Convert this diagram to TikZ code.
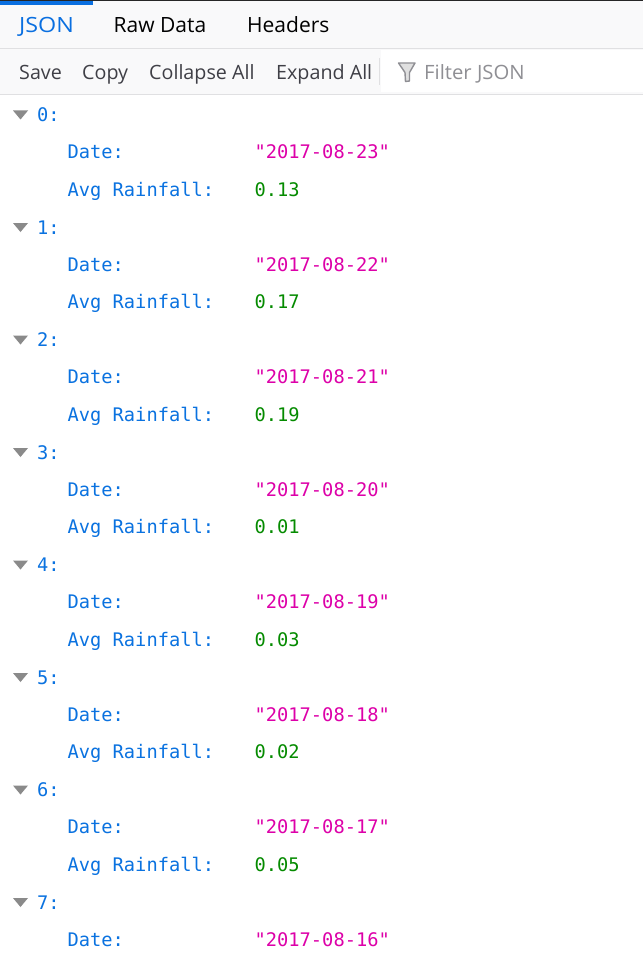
\documentclass[tikz,border=0pt]{standalone}
\usepackage{fontspec}
\setmainfont{Open Sans}
\newfontfamily\jmono{DejaVu Sans Mono}
\definecolor{tabblue}{HTML}{0A6FE0}
\definecolor{keyblue}{HTML}{0A72E0}
\definecolor{strpink}{HTML}{DD00A9}
\definecolor{numgreen}{HTML}{058B00}
\definecolor{tbtext}{HTML}{3F3F46}
\definecolor{barbg}{HTML}{F9F9FA}
\definecolor{barline}{HTML}{E0E0E2}
\definecolor{twisty}{HTML}{8A8A8A}
\definecolor{filtergray}{HTML}{8F8F94}
\tikzset{
  tab/.style={anchor=base west,inner sep=0pt,font=\fontsize{21}{25}\selectfont,text=black},
  tool/.style={anchor=base west,inner sep=0pt,font=\fontsize{19.7}{23}\selectfont,text=tbtext},
  jkey/.style={anchor=base west,inner sep=0pt,font=\jmono\fontsize{18.7}{22}\selectfont,text=keyblue},
  jstr/.style={jkey,text=strpink},
  jnum/.style={jkey,text=numgreen},
  tw/.style={fill=twisty,draw=none}
}
\begin{document}
\begin{tikzpicture}[x=1pt,y=-1pt]
\useasboundingbox (0,0) rectangle (643,955);
\fill[white] (0,0) rectangle (643,955);
% bars
\fill[barbg] (0,1) rectangle (643,95);
\fill[white] (381,50) rectangle (643,92);
\fill[black!85] (0,0) rectangle (643,1.5);
\fill[tabblue] (0,1.5) rectangle (93,5.5);
\draw[barline,line width=1pt] (0,48.5) -- (643,48.5);
\draw[barline,line width=1pt] (0,94.5) -- (643,94.5);
\draw[barline,line width=1pt] (379.5,58) -- (379.5,85);
% tabs
\node[tab,text=tabblue] (tjson) at (19,32.5) {\scalebox{1.11}[1]{JSON}};
\node[tab] (traw) at (113.5,32.5) {Raw Data};
\node[tab] (thead) at (247,32.5) {Headers};
% toolbar
\node[tool] (save) at (19,80) {Save};
\node[tool] (copy) at (82,80) {Copy};
\node[tool] (coll) at (149,80) {Collapse All};
\node[tool] (expa) at (276,80) {Expand All};
\node[tool,text=filtergray] (filt) at (424,80) {\scalebox{1.03}[1]{Filter JSON}};
% funnel
\draw[filtergray,line width=1.4pt,line join=round,fill=black!12]
  (398.5,63) -- (415,63) -- (409.5,72.5) -- (409.5,81) -- (405.5,81.5) -- (405,72.5) -- cycle;
% rows
\foreach \i/\y/\d/\v in {0/114.5/23/0.13,1/227/22/0.17,2/339.5/21/0.19,3/452/20/0.01,4/564.5/19/0.03,5/677/18/0.02,6/789.5/17/0.05}{
  \fill[tw] (13,\y-4) -- (28,\y-4) -- (20.5,\y+5) -- cycle;
  \node[jkey] (k\i) at (37,\y+7) {\i:};
  \node[jkey] (dk\i) at (67.5,\y+44) {Date:};
  \node[jstr] (dv\i) at (254.5,\y+44) {"2017-08-\d"};
  \node[jkey] (ak\i) at (67.5,\y+81.5) {Avg Rainfall:};
  \node[jnum] (av\i) at (254.5,\y+81.5) {\v};
}
\fill[tw] (13,898) -- (28,898) -- (20.5,907) -- cycle;
\node[jkey] (k7) at (37,909) {7:};
\node[jkey] (dk7) at (67.5,946) {Date:};
\node[jstr] (dv7) at (254.5,946) {"2017-08-16"};
\end{tikzpicture}
\end{document}
